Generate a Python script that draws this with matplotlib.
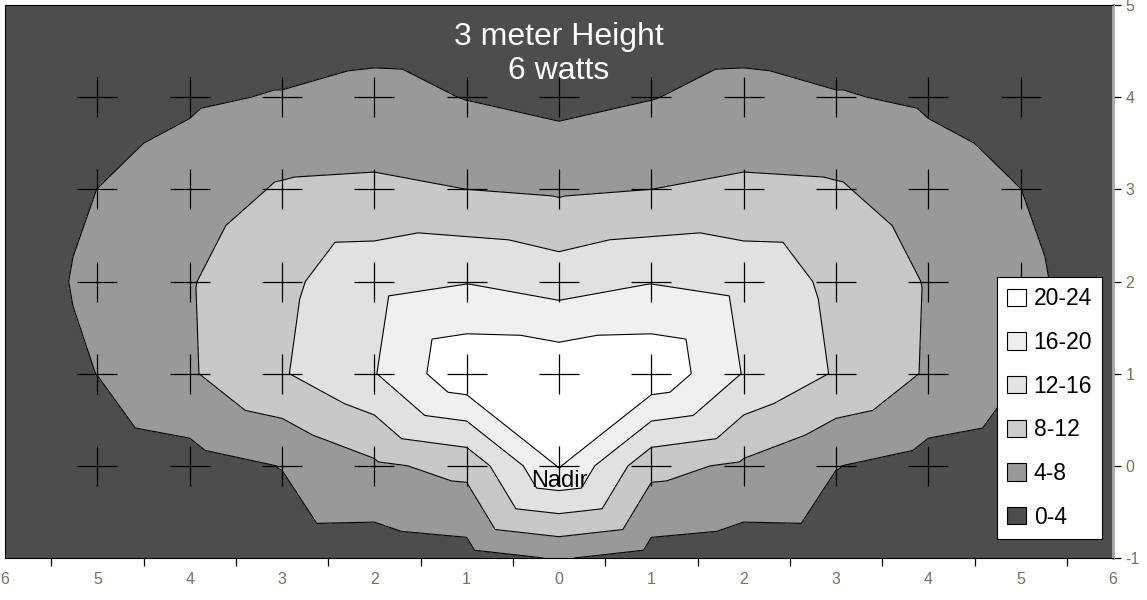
import numpy as np
import matplotlib
matplotlib.use("Agg")
import matplotlib.pyplot as plt
import matplotlib.tri as mtri
from matplotlib.patches import Patch

plt.rcParams['font.family'] = ['Liberation Sans', 'DejaVu Sans']

# grid of the measured field (metres from nadir)
x_pos = [-6, -5, -4, -3, -2, -1, 0, 1, 2, 3, 4, 5, 6]
y_pos = [-1, 0, 1, 2, 3, 4, 5]

# values per row
watts_ym1 = [0.3, 0.8, 1.2, 2.0, 1.88, 2.5, 4.3, 2.5, 1.88, 2.0, 1.2, 0.8, 0.3]
watts_y0 = [0.8, 1.5, 2.46, 4.1, 7.32, 9.2, 20.3, 9.2, 7.32, 4.1, 2.46, 1.5, 0.8]
watts_y1 = [1.5, 4.05, 7.59, 11.67, 15.8, 23.2, 23.0, 23.2, 15.8, 11.67, 7.59, 4.05, 1.5]
watts_y2 = [2.0, 4.9, 7.73, 11.1, 14.67, 15.8, 14.2, 15.8, 14.67, 11.1, 7.73, 4.9, 2.0]
watts_y3 = [1.5, 4.02, 6.0, 8.4, 8.6, 8.0, 7.4, 8.0, 8.6, 8.4, 6.0, 4.02, 1.5]
watts_y4 = [1.0, 2.0, 3.4, 4.3, 5.4, 3.85, 2.8, 3.85, 5.4, 4.3, 3.4, 2.0, 1.0]
watts_y5 = [0.2, 0.3, 0.5, 0.5, 1.0, 0.8, 0.6, 0.8, 1.0, 0.5, 0.5, 0.3, 0.2]

# measuring points (crosses)
cross_x = [-5, -4, -3, -2, -1, 0, 1, 2, 3, 4, 5]
cross_y = [0, 1, 2, 3, 4]

levels = [0, 4, 8, 12, 16, 20, 24]
band_labels = ['0-4', '4-8', '8-12', '12-16', '16-20', '20-24']
band_colors = ['#4d4d4d', '#999999', '#c8c8c8', '#e1e1e1', '#f0f0f0', '#ffffff']
legend_colors = ['#4d4d4d', '#999999', '#cccccc', '#e3e3e3', '#eeeeee', '#ffffff']

z = np.array([watts_ym1, watts_y0, watts_y1, watts_y2, watts_y3, watts_y4, watts_y5])
X, Y = np.meshgrid(x_pos, y_pos)
nx = len(x_pos)

# split each cell in two triangles along the diagonal with the higher mean
# (that is how the spreadsheet surface chart draws its bands)
tris = []
for j in range(len(y_pos) - 1):
    for i in range(nx - 1):
        a = j * nx + i
        b = a + 1
        c = a + nx
        d = c + 1
        if z.flat[a] + z.flat[d] >= z.flat[b] + z.flat[c]:
            tris += [[a, b, d], [a, d, c]]
        else:
            tris += [[a, b, c], [b, d, c]]
tri = mtri.Triangulation(X.ravel(), Y.ravel(), tris)

fig = plt.figure(figsize=(11.47, 6), dpi=100)
ax = fig.add_axes([5 / 1147, 42 / 600, 1108 / 1147, 553 / 600])
ax.set_xlim(-6, 6)
ax.set_ylim(-1, 5)
ax.set_facecolor(band_colors[0])

ax.tricontourf(tri, z.ravel(), levels=levels, colors=band_colors, zorder=1)
ax.tricontour(tri, z.ravel(), levels=levels[1:-1], colors='black',
              linewidths=0.8, zorder=2)

cx, cy = np.meshgrid(cross_x, cross_y)
ax.plot(cx.ravel(), cy.ravel(), '+', color='black', ms=29, mew=0.9, zorder=3)

ax.text(0, 4.468, '3 meter Height\n6 watts', ha='center', va='center',
        color='white', fontsize=23, linespacing=1.19, zorder=4)
ax.text(0, -0.235, 'Nadir', ha='center', va='baseline', color='black',
        fontsize=17, zorder=4)

# axes: category style x (labels at integers, ticks between), value y on right
mids = [(a + b) / 2 for a, b in zip(x_pos[:-1], x_pos[1:])]
ax.set_xticks(mids)
ax.set_xticklabels([])
ax.set_xticks(x_pos, minor=True)
ax.set_xticklabels([str(abs(v)) for v in x_pos], minor=True)
ax.tick_params(axis='x', which='major', direction='out', length=6, width=0.9, color='black')
ax.tick_params(axis='x', which='minor', length=0, pad=10, labelsize=11.5, labelcolor='#7d6f60')

ax.yaxis.tick_right()
ax.set_yticks(y_pos)
ax.set_yticklabels([str(v) for v in y_pos])
ax.tick_params(axis='y', direction='out', length=6, width=0.9, color='black',
               pad=3, labelsize=11.5, labelcolor='#7d6f60')

for side in ['left', 'top', 'bottom']:
    ax.spines[side].set_color('black')
    ax.spines[side].set_linewidth(0.8)
ax.spines['right'].set_color('#a8a8a8')
ax.spines['right'].set_linewidth(2)

handles = [Patch(fc=c, ec='black', lw=0.8, label=l)
           for c, l in zip(legend_colors[::-1], band_labels[::-1])]
leg = ax.legend(handles=handles, loc='upper left', bbox_to_anchor=(0.8953, 0.508),
                fontsize=16.5, frameon=True, fancybox=False, framealpha=1,
                edgecolor='black', handlelength=0.8, handleheight=0.8,
                handletextpad=0.35, labelspacing=0.9, borderpad=0.45,
                borderaxespad=0)
leg.get_frame().set_linewidth(0.8)
leg.set_zorder(5)

fig.savefig('out.png', dpi=100)
